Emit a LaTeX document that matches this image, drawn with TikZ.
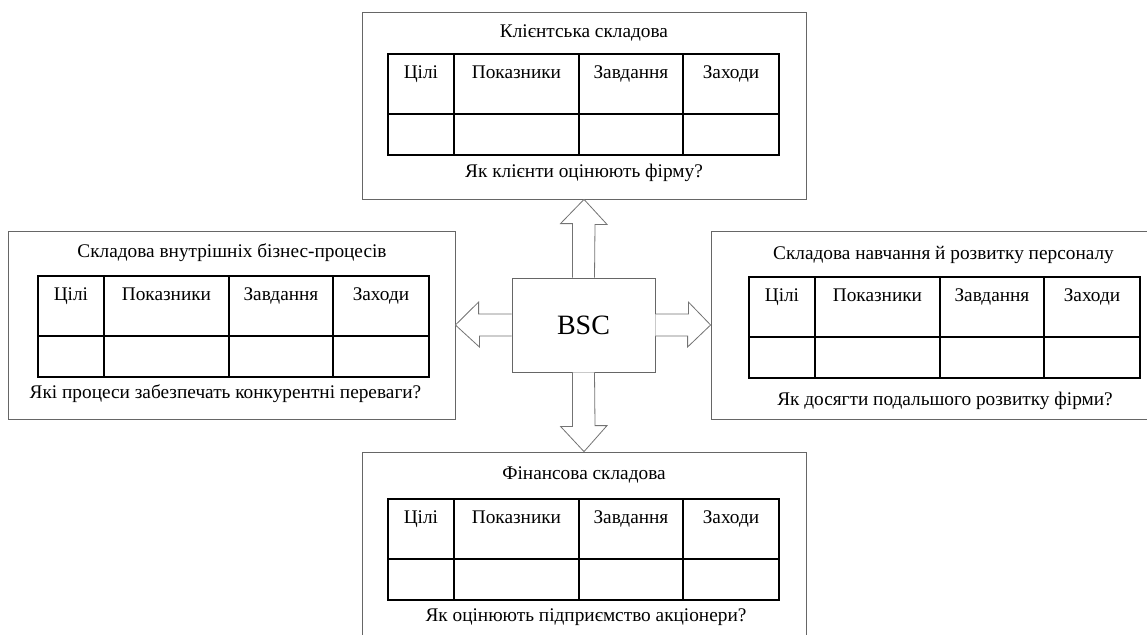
\documentclass[tikz,border=0pt]{standalone}
\usepackage{fontspec}
\setmainfont{Liberation Serif}
\usetikzlibrary{matrix}

\begin{document}
\begin{tikzpicture}
	[x=1pt,y=-1pt,
	every node/.style={font=\fontsize{19.3}{23}\selectfont},
	panel/.style={draw=black!60,line width=0.8pt,inner sep=0pt},
	caption/.style={inner sep=0pt},
	centre/.style={draw=black!60,line width=0.8pt,minimum width=143pt,
		minimum height=94pt,font=\fontsize{28}{32}\selectfont},
	blockarrow/.style={draw=black!55,line width=0.8pt,fill=white,line join=miter},
	bsctable/.style={matrix of nodes,nodes in empty cells,anchor=north west,
		inner sep=0pt,
		nodes={draw,line width=1.5pt,inner sep=0pt,anchor=center},
		column sep=-1.5pt,row sep=-1.5pt,
		row 1/.style={nodes={text height=25pt,text depth=35pt}},
		row 2/.style={nodes={minimum height=41pt}},
		column 1/.style={nodes={minimum width=66pt}},
		column 2/.style={nodes={minimum width=125pt}},
		column 3/.style={nodes={minimum width=104pt}},
		column 4/.style={nodes={minimum width=96pt}}}
	]
	\useasboundingbox (0,0) rectangle (1147,634);

	% the four panels
	\node[panel,minimum width=444pt,minimum height=187pt] (top) at (584,105.5) {};
	\node[panel,minimum width=447pt,minimum height=188pt] (left) at (231.5,325) {};
	\node[panel,minimum width=449pt,minimum height=188pt] (right) at (935.5,325) {};
	\node[panel,minimum width=444pt,minimum height=188pt] (bottom) at (584,546) {};

	\node[caption] (toptitle) at (584,33) {Клієнтська складова};
	\matrix[bsctable] (toptab) at (387,53)
		{Цілі & Показники & Завдання & Заходи \\ & & & \\};
	\node[caption] (topq) at (584,173) {Як клієнти оцінюють фірму?};

	\node[caption] (lefttitle) at (232,253) {Складова внутрішніх бізнес-процесів};
	\matrix[bsctable] (lefttab) at (37,275)
		{Цілі & Показники & Завдання & Заходи \\ & & & \\};
	\node[caption] (leftq) at (225.5,394) {Які процеси забезпечать конкурентні переваги?};

	\node[caption] (righttitle) at (943.5,255) {Складова навчання й розвитку персоналу};
	\matrix[bsctable] (righttab) at (748,276)
		{Цілі & Показники & Завдання & Заходи \\ & & & \\};
	\node[caption] (rightq) at (945,401) {Як досягти подальшого розвитку фірми?};

	\node[caption] (bottomtitle) at (584,475) {Фінансова складова};
	\matrix[bsctable] (bottomtab) at (387,498)
		{Цілі & Показники & Завдання & Заходи \\ & & & \\};
	\node[caption] (bottomq) at (586,617) {Як оцінюють підприємство акціонери?};

	% centre
	\node[centre] (bsc) at (583.5,325) {BSC};

	% block arrows
	\draw[blockarrow] ([xshift=-11pt]bsc.north) -- ++(0,-54) -- ++(-12,0)
		-- (top.south) -- ++(23,25) -- ++(-12,0) -- ([xshift=11pt]bsc.north);
	\draw[blockarrow] ([xshift=-11pt]bsc.south) -- ++(0,54) -- ++(-12,0)
		-- (bottom.north) -- ++(23,-26) -- ++(-12,0) -- ([xshift=11pt]bsc.south);
	\draw[blockarrow] ([yshift=11pt]bsc.west) -- ++(-33,0) -- ++(0,-12)
		-- (left.east) -- ++(24,22) -- ++(0,-11) -- ([yshift=-11pt]bsc.west);
	\draw[blockarrow] ([yshift=11pt]bsc.east) -- ++(33,0) -- ++(0,-12)
		-- (right.west) -- ++(-23,22) -- ++(0,-11) -- ([yshift=-11pt]bsc.east);
\end{tikzpicture}
\end{document}
